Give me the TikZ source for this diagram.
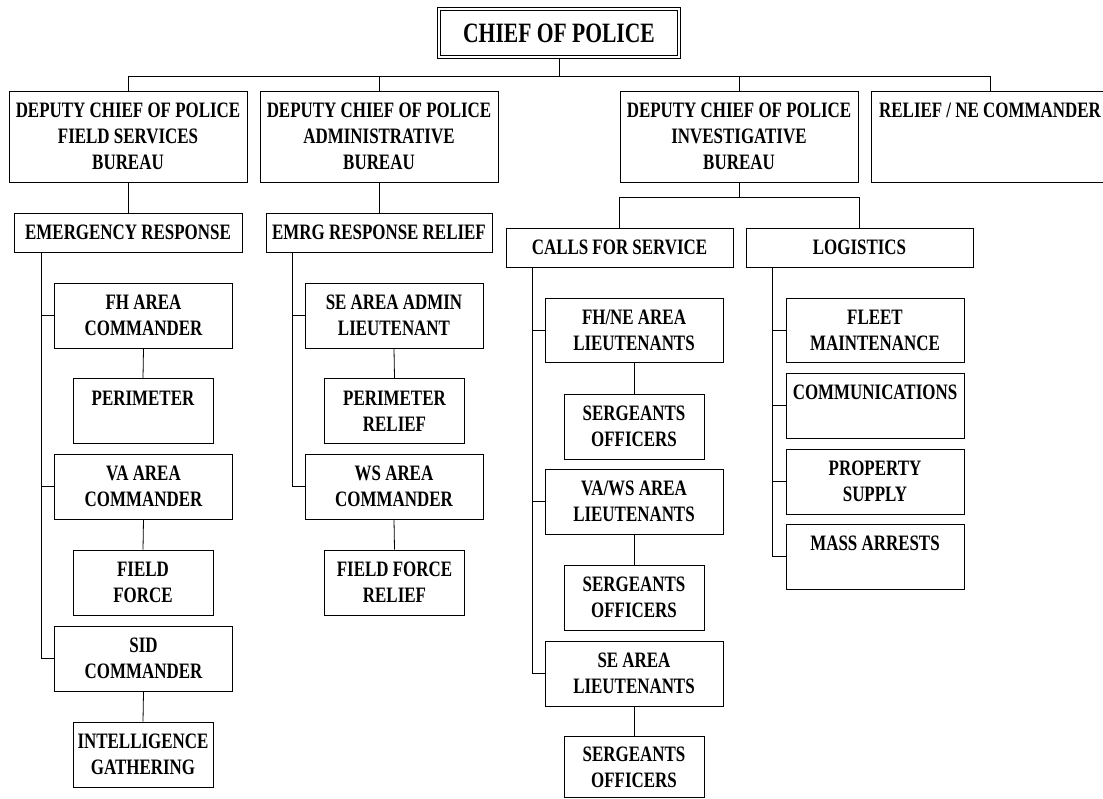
\documentclass[tikz,border=0pt]{standalone}
\usepackage{fontspec}
\setmainfont{Liberation Serif}[FakeStretch=0.77]
\usetikzlibrary{calc, positioning}

\begin{document}
\begin{tikzpicture}
    [
        x=1pt, y=-1pt,
        box/.style={draw, line width=0.9pt, inner sep=2pt, align=center,
            font=\bfseries\fontsize{22}{26}\selectfont},
        dbox/.style={box, minimum width=238pt, minimum height=91pt},
        hbox/.style={box, minimum height=39pt},
        cbox/.style={box, minimum width=178pt, minimum height=65pt},
        sbox/.style={box, minimum width=140pt, minimum height=65pt},
        topline/.style={text depth=26pt}
    ]
    \tikzstyle{line} = [draw, line width=0.8pt]

    \useasboundingbox (0,0) rectangle (1103,799);

    % chief and deputies
    \node[draw, double, double distance=2pt, line width=1pt, inner sep=0pt,
        minimum width=240pt, minimum height=48pt,
        font=\bfseries\fontsize{28}{30}\selectfont] (chief) at (559,33) {CHIEF OF POLICE};
    \node[dbox] (dfs) at (128,136.5) {DEPUTY CHIEF OF POLICE\\FIELD SERVICES\\BUREAU};
    \node[dbox] (dad) at (379,136.5) {DEPUTY CHIEF OF POLICE\\ADMINISTRATIVE\\BUREAU};
    \node[dbox] (din) at (739,136.5) {DEPUTY CHIEF OF POLICE\\INVESTIGATIVE\\BUREAU};
    \node[dbox, text depth=52pt] (rel) at (990,136.5) {RELIEF / NE COMMANDER};

    \path[line] (chief.south) ++(0,2) -- ++(0,17) coordinate (bus);
    \foreach \n in {dfs,dad,din,rel}
        \path[line] (bus) -| (\n.north);

    % second level
    \node[hbox, minimum width=228pt] (er) at (128,232.5) {EMERGENCY RESPONSE};
    \node[hbox, minimum width=226pt] (err) at (379,232.5) {EMRG RESPONSE RELIEF};
    \node[hbox, minimum width=227pt] (cfs) at (619.5,247.5) {CALLS FOR SERVICE};
    \node[hbox, minimum width=227pt] (log) at (859.5,247.5) {LOGISTICS};

    \path[line] (dfs) -- (er);
    \path[line] (dad) -- (err);
    \path[line] (din.south) -- ++(0,15) coordinate (ibus);
    \foreach \n in {cfs,log}
        \path[line] (ibus) -| (\n.north);

    % emergency response
    \node[cbox] (fha) at (143.5,315.5) {FH AREA\\COMMANDER};
    \node[sbox, topline] (per) at (143,411) {PERIMETER};
    \node[cbox] (vaa) at (143.5,486.5) {VA AREA\\COMMANDER};
    \node[sbox] (ff) at (143,582.5) {FIELD\\FORCE};
    \node[cbox] (sid) at (143.5,658.5) {SID\\COMMANDER};
    \node[sbox] (ig) at (143,754.5) {INTELLIGENCE\\GATHERING};

    % emrg response relief
    \node[cbox] (sea) at (394,315.5) {SE AREA ADMIN\\LIEUTENANT};
    \node[sbox] (prl) at (394.5,411) {PERIMETER\\RELIEF};
    \node[cbox] (wsa) at (394,486.5) {WS AREA\\COMMANDER};
    \node[sbox] (ffr) at (394.5,582.5) {FIELD FORCE\\RELIEF};

    % calls for service
    \node[cbox, minimum height=64pt] (fhn) at (634,330) {FH/NE AREA\\LIEUTENANTS};
    \node[sbox] (sg1) at (634,426.5) {SERGEANTS\\OFFICERS};
    \node[cbox] (vws) at (634,501.5) {VA/WS AREA\\LIEUTENANTS};
    \node[sbox] (sg2) at (634,597.5) {SERGEANTS\\OFFICERS};
    \node[cbox] (sel) at (634,673.5) {SE AREA\\LIEUTENANTS};
    \node[sbox, minimum height=61pt] (sg3) at (634,767) {SERGEANTS\\OFFICERS};

    % logistics
    \node[cbox, minimum height=64pt] (flt) at (875,330) {FLEET\\MAINTENANCE};
    \node[cbox, topline] (com) at (875,405.5) {COMMUNICATIONS};
    \node[cbox] (prp) at (875,481.5) {PROPERTY\\SUPPLY};
    \node[cbox, topline] (mas) at (875,556.5) {MASS ARRESTS};

    % side rails
    \coordinate (erl) at ([xshift=28pt]er.south west);
    \coordinate (errl) at ([xshift=27pt]err.south west);
    \coordinate (cfsl) at ([xshift=27pt]cfs.south west);
    \coordinate (logl) at ([xshift=27pt]log.south west);
    \foreach \n in {fha,vaa,sid}
        \path[line] (erl) |- (\n.west);
    \foreach \n in {sea,wsa}
        \path[line] (errl) |- (\n.west);
    \foreach \n in {fhn,vws,sel}
        \path[line] (cfsl) |- (\n.west);
    \foreach \n in {flt,com,prp,mas}
        \path[line] (logl) |- (\n.west);

    \foreach \a/\b in {fha/per,vaa/ff,sid/ig,sea/prl,wsa/ffr,fhn/sg1,vws/sg2,sel/sg3}
        \path[line] (\a.south) -- (\b.north);

\end{tikzpicture}
\end{document}
